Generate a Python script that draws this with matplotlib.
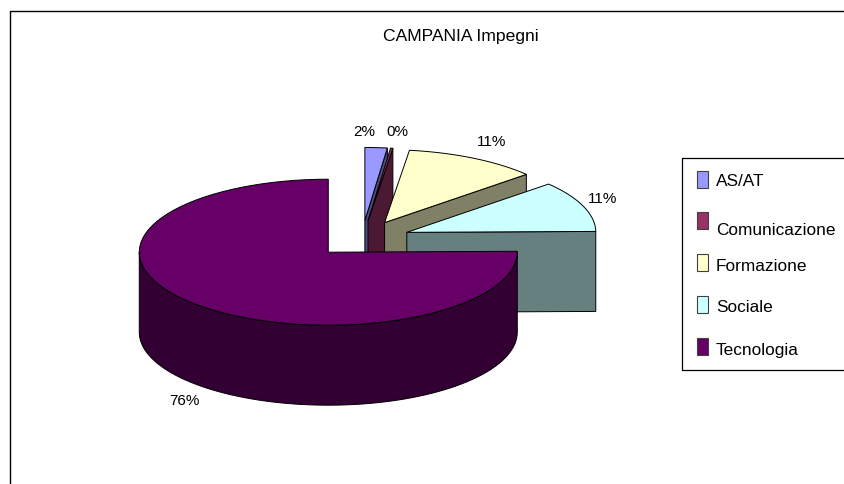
import numpy as np
import matplotlib
matplotlib.use("Agg")
import matplotlib.pyplot as plt
from matplotlib.patches import Rectangle

plt.rcParams['font.family'] = ['Liberation Sans', 'DejaVu Sans']

title = "CAMPANIA Impegni"
categories = ["AS/AT", "Comunicazione", "Formazione", "Sociale", "Tecnologia"]
values = [1.9, 0.2, 11.4, 11.3, 75.2]
pct_labels = ["2%", "0%", "11%", "11%", "76%"]
colors = ["#9999FF", "#993366", "#FFFFCC", "#CCFFFF", "#660066"]
side_colors = ["#4C4C80", "#4C1933", "#808066", "#668080", "#330033"]

# layout in pixels
cx, cy = 362, 240
rx, ry = 189, 73
depth = 80
explode = 0.254
label_xy = [(364, 132), (397, 132), (492, 142), (603, 199), (184, 401)]
legend_y = [172, 213, 255, 297, 339]
legend_text_y = [182, 231, 267, 308, 351]

fig = plt.figure(figsize=(8.45, 4.85), dpi=100)
ax = fig.add_axes([0, 0, 1, 1])
ax.set_xlim(0, 845)
ax.set_ylim(485, 0)
ax.axis("off")

# outer frame runs off the right and bottom of the picture
ax.plot([10, 10, 845], [485, 12, 12], color="black", lw=1.0, zorder=1)
ax.text(461, 37, title, ha="center", va="center", fontsize=12.6, color="black")


def arc(ax0, ay0, t0, t1):
    t = np.radians(np.linspace(t0, t1, 80))
    return ax0 + rx * np.sin(t), ay0 - ry * np.cos(t)


edges = np.concatenate([[0], np.cumsum(values)]) / sum(values) * 360
line = dict(edgecolor="black", linewidth=0.7)

for i in range(len(values)):
    t0, t1 = edges[i], edges[i + 1]
    mid = np.radians((t0 + t1) / 2)
    px = cx + explode * rx * np.sin(mid)
    py = cy - explode * ry * np.cos(mid)
    z = 2 + i

    # flat cut faces that turn towards the viewer
    for t, show in ((t1, t1 < 180), (t0, t0 > 180)):
        if show:
            ex, ey = arc(px, py, t, t)
            ax.fill([px, ex[0], ex[0], px], [py, ey[0], ey[0] + depth, py + depth],
                    facecolor=side_colors[i], zorder=z, **line)

    # rim of the front half
    a, b = max(t0, 90), min(t1, 270)
    if a < b:
        xs, ys = arc(px, py, a, b)
        ax.fill(np.r_[xs, xs[::-1]], np.r_[ys, ys[::-1] + depth],
                facecolor=side_colors[i], zorder=z, **line)

    # top face
    xs, ys = arc(px, py, t0, t1)
    ax.fill(np.r_[px, xs], np.r_[py, ys], facecolor=colors[i], zorder=z, **line)

    ax.text(label_xy[i][0], label_xy[i][1], pct_labels[i], ha="center", va="center",
            fontsize=11, color="black", zorder=20)

# legend
ax.plot([845, 682, 682, 845], [158.5, 158.5, 370.5, 370.5], color="black", lw=0.9, zorder=10)
for i, name in enumerate(categories):
    ax.add_patch(Rectangle((697, legend_y[i]), 11, 16.5, facecolor=colors[i],
                           edgecolor="#404040", linewidth=0.8, zorder=11))
    ax.text(716, legend_text_y[i], name, ha="left", va="center",
            fontsize=12.4, color="black", zorder=11)

fig.savefig("out.png", dpi=100)
